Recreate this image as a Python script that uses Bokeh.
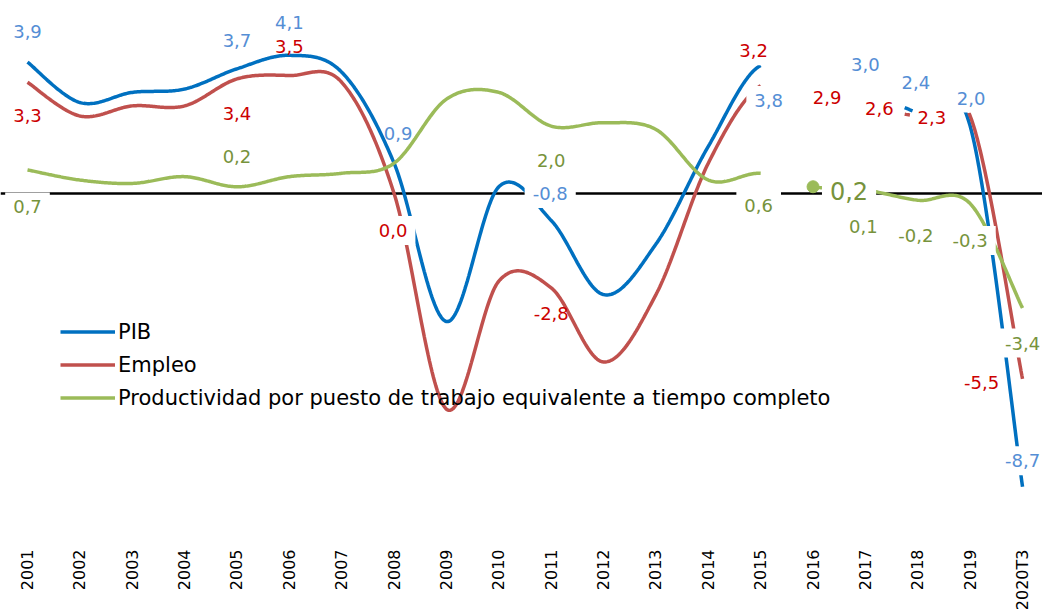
import numpy as np
from bokeh.plotting import figure
from bokeh.models import Label, Span, FixedTicker, Legend, LegendItem, Range1d
from bokeh.embed import file_html
from bokeh.resources import INLINE

# ---------------- data ----------------
categories = ["2001", "2002", "2003", "2004", "2005", "2006", "2007", "2008", "2009", "2010",
              "2011", "2012", "2013", "2014", "2015", "2016", "2017", "2018", "2019", "2020T3"]
pib = [3.9, 2.7, 3.0, 3.1, 3.7, 4.1, 3.6, 0.9, -3.8, 0.2, -0.8, -3.0, -1.5, 1.4, 3.8, 3.0, 3.0, 2.4, 2.0, -8.7]
empleo = [3.3, 2.3, 2.6, 2.6, 3.4, 3.5, 3.3, 0.0, -6.4, -2.6, -2.8, -5.0, -3.0, 0.9, 3.2, 2.9, 2.6, 2.3, 2.3, -5.5]
productividad = [0.7, 0.4, 0.3, 0.5, 0.2, 0.5, 0.6, 0.9, 2.8, 3.0, 2.0, 2.1, 1.9, 0.4, 0.6, 0.2, 0.1, -0.2, -0.3, -3.4]
series_names = ["PIB", "Empleo", "Productividad por puesto de trabajo equivalente a tiempo completo"]

# ---------------- style ----------------
LINE_COLORS = {"pib": "#0070C0", "emp": "#C0504D", "prod": "#9BBB59"}
LABEL_COLORS = {"pib": "#558ED5", "emp": "#CC0000", "prod": "#77933C"}
FONT = "DejaVu Sans"

FRAME_W, FRAME_H = 1042, 518
PX_X, PX_Y = 52.37, 33.7
x_start = -27.0 / PX_X
y_end = 193.0 / PX_Y

# hidden stretches of the lines (category units)
hidden = {
    "pib": [(14.0, 16.75), (16.9, 17.76)],
    "emp": [(14.0, 16.73), (16.85, 17.97)],
    "prod": [(14.0, 14.97)],
}

# data labels: (series, index, x_offset px, y_offset px, white box, font size)
label_specs = [
    ("pib", 0, 0, 31, False, 18), ("pib", 4, 0, 28, False, 18), ("pib", 5, 0, 33, False, 18),
    ("pib", 7, 4, 30, False, 18), ("pib", 10, -1, 27, True, 18), ("pib", 14, 8, -35, True, 18),
    ("pib", 16, 0, 28, False, 18), ("pib", 17, -2, 30, False, 18), ("pib", 18, 1, 28, True, 18),
    ("pib", 19, 0, 26, True, 18),
    ("emp", 0, 0, -33, False, 18), ("emp", 4, 0, -35, False, 18), ("emp", 5, 0, 29, False, 18),
    ("emp", 7, -1, -37, True, 18), ("emp", 10, 0, -26, False, 18), ("emp", 14, -7, 35, True, 18),
    ("emp", 15, 14, -2, False, 18), ("emp", 16, 14, -3, False, 18), ("emp", 17, 14, -2, False, 18),
    ("emp", 19, -41, -4, False, 18),
    ("prod", 0, 0, -37, True, 18), ("prod", 4, 0, 30, False, 18), ("prod", 10, 0, -34, False, 18),
    ("prod", 14, -2, -32, True, 18), ("prod", 15, 36, -4, True, 24), ("prod", 16, -2, -36, False, 18),
    ("prod", 17, -2, -35, False, 18), ("prod", 18, 0, -37, True, 18), ("prod", 19, 0, -35, True, 18),
]

values = {"pib": pib, "emp": empleo, "prod": productividad}


def smooth_curve(xs, ys, n=40):
    xs = np.asarray(xs, float)
    ys = np.asarray(ys, float)
    m = len(xs)
    ox, oy = [], []
    for i in range(m - 1):
        i0, i3 = max(i - 1, 0), min(i + 2, m - 1)
        p0 = np.array([xs[i0], ys[i0]])
        p1 = np.array([xs[i], ys[i]])
        p2 = np.array([xs[i + 1], ys[i + 1]])
        p3 = np.array([xs[i3], ys[i3]])
        c1 = p1 + (p2 - p0) / 6.0
        c2 = p2 - (p3 - p1) / 6.0
        t = np.linspace(0, 1, n, endpoint=(i == m - 2))[:, None]
        b = (1 - t) ** 3 * p1 + 3 * (1 - t) ** 2 * t * c1 + 3 * (1 - t) * t ** 2 * c2 + t ** 3 * p2
        ox.append(b[:, 0])
        oy.append(b[:, 1])
    return np.concatenate(ox), np.concatenate(oy)


p = figure(frame_width=FRAME_W, frame_height=FRAME_H, output_backend="svg", toolbar_location=None,
           x_range=Range1d(x_start, x_start + FRAME_W / PX_X),
           y_range=Range1d(y_end - FRAME_H / PX_Y, y_end),
           min_border=0, min_border_left=0, min_border_right=0, min_border_top=0)
p.outline_line_color = None
p.grid.visible = False
p.yaxis.visible = False
p.background_fill_color = "white"
p.border_fill_color = "white"

xa = p.xaxis[0]
xa.ticker = FixedTicker(ticks=list(range(len(categories))))
xa.major_label_overrides = {i: c for i, c in enumerate(categories)}
xa.major_label_orientation = np.pi / 2
xa.axis_line_color = None
xa.major_tick_line_color = None
xa.minor_tick_line_color = None
xa.major_label_standoff = 25
xa.major_label_text_font = FONT
xa.major_label_text_font_size = "16px"
xa.major_label_text_color = "black"

p.add_layout(Span(location=0, dimension="width", line_color="black", line_width=2.5, level="underlay"))

xs = list(range(len(categories)))
renderers = {}
for key in ["pib", "emp", "prod"]:
    cx, cy = smooth_curve(xs, values[key])
    for lo, hi in hidden[key]:
        cy[(cx > lo) & (cx < hi)] = np.nan
    renderers[key] = p.line(cx, cy, line_color=LINE_COLORS[key], line_width=3.5)

p.scatter([xs[15]], [productividad[15]], size=12, color=LINE_COLORS["prod"])

for key, idx, dx, dy, box, size in label_specs:
    v = values[key][idx]
    txt = f"{v:.1f}".replace(".", ",")
    kw = dict(background_fill_color="white", background_fill_alpha=1.0, padding=8) if box else {}
    p.add_layout(Label(x=xs[idx], y=v, x_offset=dx, y_offset=dy, text=txt,
                       text_align="center", text_baseline="middle",
                       text_font=FONT, text_font_size=f"{size}px",
                       text_color=LABEL_COLORS[key], **kw))

legend = Legend(items=[LegendItem(label=series_names[0], renderers=[renderers["pib"]]),
                       LegendItem(label=series_names[1], renderers=[renderers["emp"]]),
                       LegendItem(label=series_names[2], renderers=[renderers["prod"]])],
                location=(60, 104), padding=0, margin=0, spacing=0,
                glyph_width=55, glyph_height=33, label_height=33, label_standoff=3,
                label_text_font=FONT, label_text_font_size="21px", label_text_color="black",
                border_line_alpha=0, background_fill_alpha=0)
p.add_layout(legend, "center")

open("out.html", "w").write(file_html(p, INLINE))
